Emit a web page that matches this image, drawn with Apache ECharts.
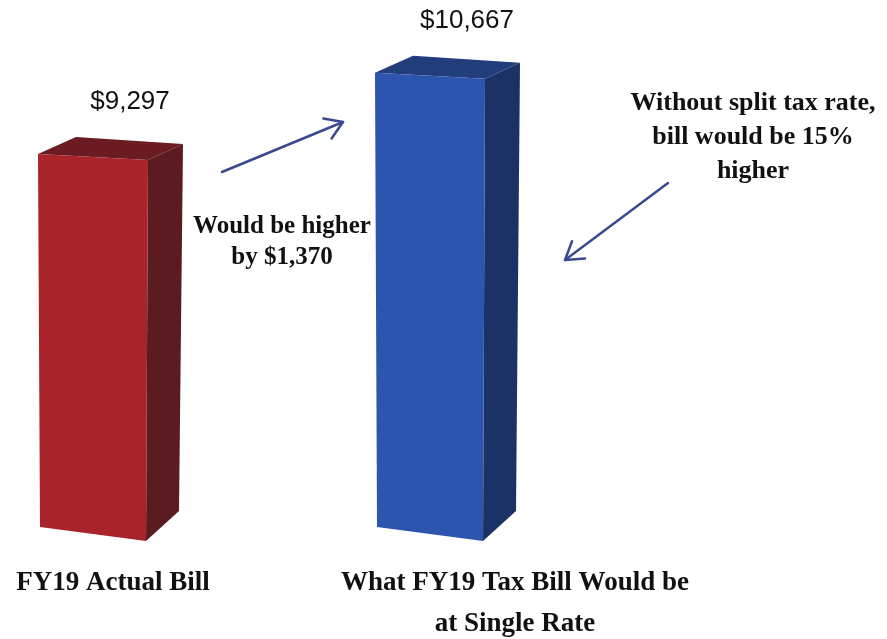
<!DOCTYPE html>
<html>
<head>
<meta charset="utf-8">
<script src="https://cdn.jsdelivr.net/npm/echarts@6/dist/echarts.min.js"></script>
<style>
  html, body { margin: 0; padding: 0; background: #ffffff; }
  #chart { width: 887px; height: 639px; }
</style>
</head>
<body>
<div id="chart"></div>
<script>
// Bill categories and amounts
const categories = ['FY19 Actual Bill', 'What FY19 Tax Bill Would be\nat Single Rate'];
const billValues = [9297, 10667];

// Callout texts
const differenceNote = 'Would be higher\nby $1,370';
const percentNote = 'Without split tax rate,\nbill would be 15%\nhigher';

// Face colours for each box: front, side, top
const facePalette = [
  { front: '#a9232b', side: '#5c1b20', top: '#6a1c22' },
  { front: '#2e55ad', side: '#1c3266', top: '#223d7c' }
];

const axisMin = 3000;
const axisMax = 11000;
const serif = '"Liberation Serif", "Times New Roman", serif';
const sans = '"Liberation Sans", Arial, sans-serif';
const arrowColor = '#3b4a8e';

const chart = echarts.init(document.getElementById('chart'), null, { renderer: 'canvas' });

function money(v) {
  return '$' + v.toLocaleString('en-US');
}

// Draws a shaded box with a slight perspective: front, right side and top faces
function renderBox(params, api) {
  const idx = api.value(0);
  const val = api.value(1);
  const top = api.coord([idx, val]);
  const base = api.coord([idx, axisMin]);
  const hw = 55;
  const cx = top[0];
  const TL = [cx - hw, top[1]];
  const TR = [cx + hw, top[1] + 6];
  const BL = [cx - hw + 2, base[1]];
  const BR = [cx + hw - 2, base[1] + 14];
  const TBR = [TR[0] + 35, TR[1] - 16];
  const TBL = [TL[0] + 38, TL[1] - 17];
  const BBR = [BR[0] + 33, BR[1] - 30];
  const pal = facePalette[idx];
  return {
    type: 'group',
    children: [
      { type: 'polygon', shape: { points: [TR, TBR, BBR, BR] }, style: { fill: pal.side } },
      { type: 'polygon', shape: { points: [TL, TBL, TBR, TR] }, style: { fill: pal.top } },
      { type: 'polygon', shape: { points: [TL, TR, BR, BL] }, style: { fill: pal.front } },
      {
        type: 'text',
        style: {
          text: money(val),
          x: cx + 37,
          y: top[1] - 52,
          align: 'center',
          verticalAlign: 'middle',
          font: '26px ' + sans,
          fill: '#111111'
        }
      }
    ]
  };
}

// Open arrow (shaft + V head) from start to tip
function arrow(start, tip) {
  const ang = Math.atan2(tip[1] - start[1], tip[0] - start[0]);
  const len = 20, spread = Math.PI / 5.5;
  const a1 = [tip[0] - len * Math.cos(ang - spread), tip[1] - len * Math.sin(ang - spread)];
  const a2 = [tip[0] - len * Math.cos(ang + spread), tip[1] - len * Math.sin(ang + spread)];
  const style = { stroke: arrowColor, lineWidth: 2.5, fill: null, lineCap: 'round', lineJoin: 'round' };
  return [
    { type: 'polyline', shape: { points: [start, tip] }, style: style },
    { type: 'polyline', shape: { points: [a1, tip, a2] }, style: style }
  ];
}

const labelShift = [40, 170];

const option = {
  backgroundColor: '#ffffff',
  animation: false,
  grid: { left: 93, right: 457, top: 53, bottom: 112, containLabel: false, outerBoundsMode: 'none' },
  xAxis: {
    type: 'category',
    data: categories,
    boundaryGap: false,
    axisLine: { show: false },
    axisTick: { show: false },
    splitLine: { show: false },
    axisLabel: {
      interval: 0,
      margin: 36,
      verticalAlign: 'top',
      formatter: function (value, index) {
        return value.split('\n').map(function (l) { return '{c' + index + '|' + l + '}'; }).join('\n');
      },
      rich: {
        c0: { padding: [0, 0, 0, labelShift[0]], fontFamily: serif, fontWeight: 'bold', fontSize: 27, lineHeight: 41, color: '#111111' },
        c1: { padding: [0, 0, 0, labelShift[1]], fontFamily: serif, fontWeight: 'bold', fontSize: 27, lineHeight: 41, color: '#111111' }
      }
    }
  },
  yAxis: {
    type: 'value',
    min: axisMin,
    max: axisMax,
    show: false
  },
  series: [{
    type: 'custom',
    clip: false,
    renderItem: renderBox,
    encode: { x: 0, y: 1 },
    data: billValues.map(function (v, i) { return [i, v]; })
  }],
  graphic: [
    {
      type: 'text',
      style: {
        text: differenceNote,
        x: 282, y: 242,
        align: 'center', verticalAlign: 'middle',
        font: 'bold 25px ' + serif,
        lineHeight: 31,
        fill: '#111111'
      }
    },
    {
      type: 'text',
      style: {
        text: percentNote,
        x: 753, y: 137,
        align: 'center', verticalAlign: 'middle',
        font: 'bold 26px ' + serif,
        lineHeight: 34,
        fill: '#111111'
      }
    }
  ].concat(arrow([222, 172], [343, 122]), arrow([668, 183], [565, 260]))
};

chart.setOption(option);
</script>
</body>
</html>
